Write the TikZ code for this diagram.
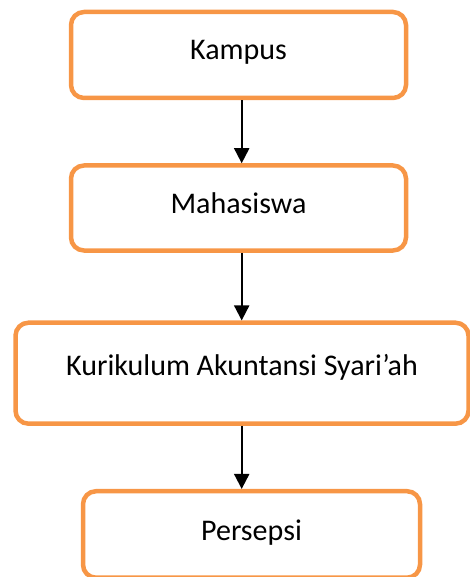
\documentclass[tikz,border=0pt]{standalone}
\usepackage{fontspec}
\setmainfont{Carlito}
\usetikzlibrary{arrows.meta, positioning}
\definecolor{boxorange}{HTML}{F79646}

\begin{document}
\begin{tikzpicture}[
    box/.style={draw=boxorange, line width=4.5pt, rounded corners=13pt,
                minimum width=335pt, minimum height=86pt, align=center,
                text height=20pt, text depth=10pt,
                font=\fontsize{30}{36}\selectfont},
    flow/.style={-{Triangle[width=15pt,length=15pt]}, line width=2pt}
  ]
  \useasboundingbox (0,0) rectangle (469pt,-577pt);

  % Alur penelitian
  \node[box] (kampus) at (238.5pt,-55pt) {Kampus};
  \node[box, minimum height=85pt, below=63pt of kampus] (mhs) {Mahasiswa};
  \node[box, minimum width=453pt, minimum height=101pt, text depth=16pt,
        below=67.7pt of mhs, xshift=3.5pt] (kurikulum)
    {Kurikulum Akuntansi Syari’ah};
  \node[box, minimum width=337pt, minimum height=86.5pt, text depth=8pt,
        below=63pt of kurikulum, xshift=9.5pt] (persepsi) {Persepsi};

  % Panah
  \draw[flow] ([xshift=3.2pt]kampus.south) -- ([xshift=3.2pt]mhs.north);
  \draw[flow] ([xshift=3.2pt]mhs.south) -- ([xshift=-0.3pt]kurikulum.north);
  \draw[flow] ([xshift=-0.3pt]kurikulum.south) -- ([xshift=-9.8pt]persepsi.north);

\end{tikzpicture}
\end{document}
